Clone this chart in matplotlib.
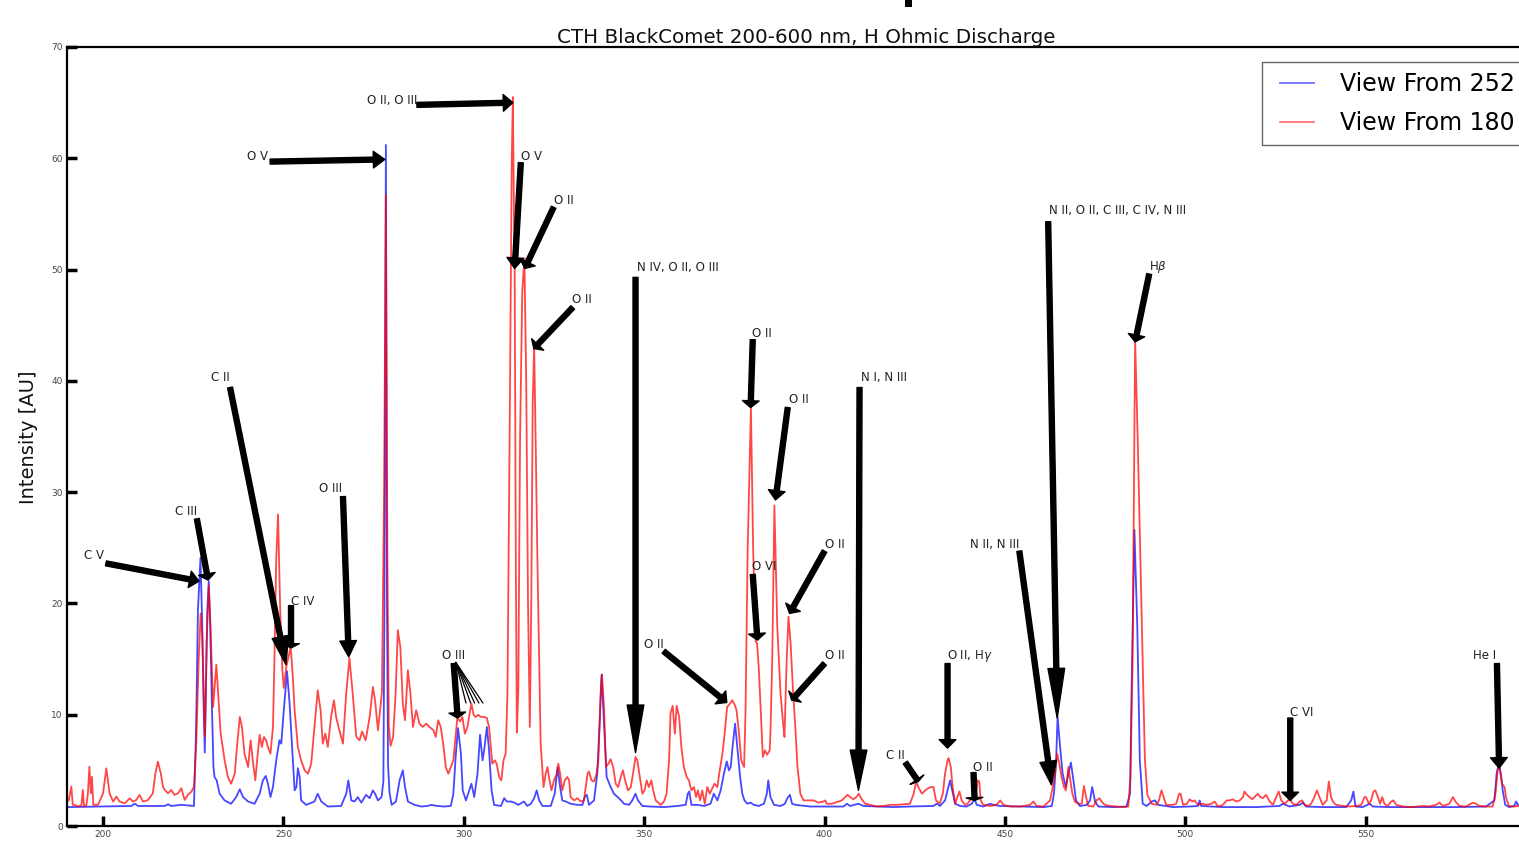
import numpy as np
import matplotlib
matplotlib.use("Agg")
import matplotlib.pyplot as plt
from matplotlib.lines import Line2D
from matplotlib.patches import Rectangle
from matplotlib.legend_handler import HandlerLine2D

# ---------------- data (wavelength [nm], intensity [AU]) ----------------
blue_spectrum = np.array([
    (190.3, 1.7), (199.5, 1.75), (207.8, 1.8), (208.8, 2.0), (209.7, 1.8), (217.1, 1.8), (218.0, 1.95),
    (218.9, 1.8), (221.7, 1.9), (225.2, 1.8), (225.8, 8.9), (226.3, 19.4), (227.0, 24.1), (227.5, 17.9),
    (227.9, 10.4), (228.2, 6.6), (228.5, 11.9), (228.9, 19.4), (229.3, 22.0), (229.7, 17.9), (230.2, 10.4),
    (230.6, 5.3), (230.9, 4.4), (231.5, 4.1), (232.3, 2.9), (233.7, 2.3), (235.5, 2.0), (236.9, 2.6),
    (237.9, 3.3), (238.8, 2.6), (240.2, 2.2), (242.0, 2.0), (243.4, 2.9), (244.3, 4.1), (245.1, 4.5),
    (245.7, 3.8), (246.4, 2.6), (247.1, 3.5), (248.0, 5.9), (248.9, 7.7), (249.4, 7.4), (250.1, 10.4),
    (251.0, 13.9), (251.7, 11.0), (252.4, 7.1), (253.1, 3.2), (253.6, 3.5), (254.0, 5.2), (254.5, 4.4),
    (254.9, 2.3), (256.3, 1.9), (258.6, 2.2), (259.5, 2.9), (260.5, 2.2), (262.3, 1.75), (266.0, 1.8),
    (267.4, 2.9), (268.0, 4.1), (268.8, 2.3), (269.7, 2.2), (270.6, 2.6), (271.6, 2.1), (272.9, 2.8),
    (273.9, 2.5), (274.8, 3.2), (275.4, 2.9), (276.2, 2.3), (277.2, 2.6), (277.7, 4.0), (278.0, 20.0),
    (278.4, 61.2), (278.7, 20.0), (279.0, 5.5), (279.4, 3.0), (280.0, 1.9), (281.2, 2.2), (282.2, 4.1),
    (283.1, 5.0), (283.7, 3.5), (284.5, 2.2), (286.3, 1.9), (288.2, 1.75), (290.0, 1.8), (290.9, 1.9),
    (292.7, 1.8), (294.6, 1.75), (296.4, 1.8), (297.1, 2.9), (297.8, 6.5), (298.4, 8.8), (299.2, 6.5),
    (299.7, 3.2), (300.6, 2.3), (301.5, 3.2), (302.1, 3.8), (302.9, 2.6), (303.8, 4.7), (304.5, 8.2),
    (305.2, 5.9), (305.6, 6.7), (306.4, 8.9), (307.0, 6.8), (307.7, 3.2), (308.4, 1.9), (310.3, 1.8),
    (311.2, 2.5), (311.9, 2.2), (313.0, 2.2), (314.0, 2.1), (315.1, 1.9), (316.7, 2.2), (317.6, 1.8),
    (318.6, 2.0), (319.5, 2.5), (320.2, 3.2), (320.9, 2.3), (321.8, 1.8), (324.1, 1.8), (325.2, 2.9),
    (326.0, 5.3), (326.7, 3.5), (327.3, 2.3), (328.3, 2.2), (329.6, 2.0), (331.5, 1.9), (332.9, 1.9),
    (333.5, 2.6), (334.1, 2.8), (334.7, 1.9), (336.1, 2.3), (337.0, 4.7), (337.6, 8.9), (338.2, 13.6),
    (338.9, 8.9), (339.6, 4.4), (340.7, 3.5), (341.6, 2.9), (343.0, 2.5), (344.4, 2.0), (345.8, 1.9),
    (346.7, 2.3), (347.6, 2.9), (348.3, 2.3), (349.5, 1.8), (351.8, 1.75), (355.5, 1.7), (359.2, 1.8),
    (361.5, 1.9), (362.1, 2.9), (362.5, 3.1), (363.1, 1.9), (364.7, 1.9), (366.6, 1.8), (368.4, 2.0),
    (369.3, 2.9), (370.3, 2.3), (371.2, 3.2), (372.1, 4.7), (372.9, 5.8), (373.5, 5.0), (374.0, 5.3),
    (374.5, 7.1), (375.2, 9.2), (375.8, 7.1), (376.6, 4.4), (377.2, 2.9), (377.8, 2.3), (378.6, 2.0),
    (379.5, 2.1), (380.4, 1.9), (381.8, 1.8), (383.2, 2.0), (384.0, 2.9), (384.4, 4.1), (385.0, 2.6),
    (386.0, 1.9), (387.8, 1.8), (389.0, 2.0), (389.7, 2.5), (390.4, 2.8), (391.0, 2.0), (392.0, 1.9),
    (396.0, 1.75), (399.7, 1.75), (405.3, 1.75), (406.2, 2.0), (407.1, 1.8), (409.4, 2.0), (410.8, 1.8),
    (415.4, 1.75), (419.1, 1.7), (423.7, 1.75), (430.2, 1.8), (431.1, 2.0), (432.0, 1.8), (433.4, 2.3),
    (434.1, 3.2), (434.8, 4.1), (435.4, 3.2), (436.2, 2.0), (437.6, 1.8), (439.4, 1.75), (440.8, 2.0),
    (441.6, 2.4), (442.2, 1.9), (444.0, 1.75), (445.9, 2.0), (446.8, 1.9), (448.7, 1.8), (454.2, 1.75),
    (460.7, 1.7), (463.0, 1.8), (463.6, 2.9), (464.2, 5.9), (464.6, 9.8), (465.3, 7.1), (466.0, 4.7),
    (466.9, 3.5), (467.6, 4.7), (468.3, 5.7), (469.0, 4.1), (469.7, 2.3), (470.8, 1.8), (472.7, 1.9),
    (473.6, 2.3), (474.2, 3.5), (475.0, 2.2), (475.9, 1.75), (480.1, 1.7), (483.7, 1.75), (484.7, 2.9),
    (485.1, 11.9), (485.9, 26.6), (486.7, 17.9), (487.4, 5.9), (488.2, 2.0), (489.3, 1.8), (490.7, 2.2),
    (491.6, 2.3), (492.5, 1.9), (496.6, 1.7), (501.2, 1.75), (503.5, 1.8), (504.0, 2.3), (504.4, 1.8),
    (510.4, 1.7), (519.7, 1.7), (526.1, 1.8), (527.1, 2.0), (528.9, 1.75), (531.7, 1.9), (532.6, 2.1),
    (533.5, 1.75), (538.1, 1.7), (544.6, 1.7), (546.0, 2.3), (546.6, 3.1), (547.2, 1.75), (549.2, 1.7),
    (551.1, 2.0), (552.0, 1.75), (556.6, 1.7), (565.8, 1.7), (575.1, 1.7), (583.4, 1.75), (585.7, 2.3),
    (586.3, 4.7), (586.9, 5.6), (587.5, 4.7), (588.0, 3.2), (588.7, 1.9), (589.8, 1.7), (591.2, 1.8),
    (591.7, 2.2), (592.2, 1.9), (596.0, 1.75), (600.0, 1.75),
])

red_spectrum = np.array([
    (190.5, 2.3), (191.2, 3.54), (191.6, 1.9), (192.1, 1.9), (193.1, 1.75), (194.0, 1.9), (194.4, 3.24),
    (194.7, 1.75), (195.4, 1.9), (195.8, 2.94), (196.2, 5.33), (196.6, 2.94), (196.9, 4.43), (197.3, 1.9),
    (198.6, 1.9), (200.0, 2.94), (200.9, 5.18), (201.8, 2.94), (202.8, 2.19), (203.7, 2.64), (204.6, 2.19),
    (206.0, 2.04), (207.4, 2.49), (208.3, 2.19), (209.2, 2.34), (210.1, 2.79), (211.1, 2.19), (212.5, 2.34),
    (213.8, 2.94), (214.5, 4.73), (215.2, 5.78), (216.0, 4.73), (216.6, 3.54), (217.1, 3.24), (218.0, 2.94),
    (218.9, 3.24), (219.8, 2.79), (220.8, 2.94), (221.7, 3.39), (222.6, 2.34), (223.5, 2.79), (224.5, 3.09),
    (225.2, 3.54), (225.8, 7.13), (226.5, 14.9), (227.05, 19.1), (227.5, 17.0), (228.0, 10.4), (228.25, 8.0),
    (228.7, 16.4), (229.3, 21.6), (229.8, 17.9), (230.5, 10.7), (231.4, 14.5), (232.6, 8.3), (233.7, 5.9),
    (234.6, 4.4), (235.5, 3.8), (236.5, 4.7), (237.2, 7.4), (237.9, 9.8), (238.5, 8.9), (239.2, 6.5),
    (240.2, 5.3), (240.9, 7.7), (241.5, 5.9), (242.2, 4.1), (242.7, 5.9), (243.4, 8.2), (244.0, 7.1),
    (244.6, 8.0), (245.2, 7.7), (245.7, 7.1), (246.4, 6.5), (247.1, 8.9), (247.5, 14.9), (248.0, 24.0),
    (248.5, 28.0), (249.1, 19.4), (249.7, 14.0), (250.1, 12.4), (250.8, 14.3), (252.0, 16.1), (252.6, 13.4),
    (253.1, 10.4), (254.0, 7.1), (254.9, 5.9), (255.9, 5.0), (256.8, 4.7), (257.7, 5.6), (258.6, 8.9),
    (259.5, 12.2), (260.3, 10.4), (260.9, 7.4), (261.6, 8.3), (262.3, 7.1), (263.2, 9.8), (264.0, 11.3),
    (264.6, 9.8), (265.5, 8.6), (266.5, 7.4), (267.4, 11.9), (268.3, 15.1), (269.2, 11.9), (270.2, 8.0),
    (271.1, 7.7), (271.8, 8.5), (272.8, 7.7), (273.9, 9.8), (274.8, 12.5), (275.4, 11.3), (276.2, 8.6),
    (276.6, 9.8), (277.3, 12.0), (277.9, 30.0), (278.4, 56.7), (278.8, 25.0), (279.2, 9.0), (279.7, 7.2),
    (280.4, 8.0), (281.1, 11.9), (281.7, 17.6), (282.4, 16.1), (283.1, 11.0), (283.7, 9.5), (284.5, 14.0),
    (285.2, 11.9), (285.9, 8.9), (286.8, 10.4), (287.7, 9.2), (288.6, 8.9), (289.6, 9.2), (290.5, 8.9),
    (291.6, 8.6), (292.2, 8.0), (292.9, 9.5), (293.6, 8.9), (294.4, 7.1), (295.0, 5.3), (295.7, 4.7),
    (296.4, 5.3), (297.1, 5.9), (297.8, 8.3), (298.2, 9.7), (299.0, 9.4), (299.6, 9.8), (300.3, 8.3),
    (301.0, 8.9), (301.8, 10.4), (302.1, 11.0), (302.7, 10.0), (303.3, 9.8), (304.0, 10.0), (304.7, 9.8),
    (305.6, 9.8), (306.4, 9.7), (307.0, 8.9), (307.5, 7.1), (307.9, 5.6), (308.6, 5.9), (309.1, 5.6),
    (309.8, 4.4), (310.4, 4.1), (311.0, 5.9), (311.6, 6.5), (312.1, 11.9), (312.7, 35.0), (313.3, 60.0),
    (313.6, 65.5), (313.9, 55.0), (314.1, 50.0), (314.4, 25.0), (314.7, 8.4), (315.1, 12.0), (315.6, 35.0),
    (316.2, 48.0), (316.8, 51.0), (317.3, 40.0), (317.8, 20.0), (318.3, 8.9), (318.7, 20.0), (319.1, 38.0),
    (319.5, 43.2), (319.9, 35.0), (320.4, 24.0), (320.9, 14.9), (321.3, 7.4), (322.1, 3.5), (322.7, 4.7),
    (323.2, 5.3), (323.6, 4.4), (324.3, 3.2), (325.0, 4.1), (325.8, 4.7), (326.2, 5.6), (326.7, 4.7),
    (327.3, 3.2), (328.0, 4.1), (328.7, 4.4), (329.2, 4.1), (329.6, 2.6), (330.6, 2.3), (331.5, 2.5),
    (332.4, 2.2), (333.3, 2.3), (333.8, 3.5), (334.3, 4.7), (334.7, 4.9), (335.4, 4.1), (336.1, 4.0),
    (336.8, 4.7), (337.3, 5.9), (338.0, 12.5), (338.3, 13.6), (338.9, 10.4), (339.4, 5.3), (340.1, 5.6),
    (340.7, 6.0), (341.4, 5.3), (342.1, 3.8), (342.8, 3.5), (343.5, 4.4), (344.1, 5.0), (344.8, 4.0),
    (345.5, 3.2), (346.3, 3.5), (346.9, 4.7), (347.6, 6.2), (348.1, 5.9), (348.8, 4.4), (349.5, 2.9),
    (350.1, 3.2), (350.7, 4.1), (351.3, 3.5), (352.0, 4.1), (352.5, 3.2), (353.2, 2.3), (354.6, 1.9),
    (355.5, 2.2), (356.2, 2.9), (356.9, 5.9), (357.3, 10.1), (357.9, 10.8), (358.5, 8.3), (359.0, 10.8),
    (359.7, 9.8), (360.3, 7.1), (361.0, 5.3), (361.8, 4.4), (362.4, 4.1), (363.1, 3.2), (363.8, 3.5),
    (364.4, 2.6), (364.9, 3.2), (365.5, 2.3), (366.1, 3.2), (366.8, 2.0), (367.5, 3.5), (368.2, 2.9),
    (368.9, 3.4), (369.5, 3.8), (370.3, 3.5), (370.8, 4.7), (371.7, 6.5), (372.3, 8.3), (373.0, 10.7),
    (373.8, 11.0), (374.4, 11.3), (375.1, 10.9), (375.6, 10.4), (376.3, 8.3), (376.9, 5.9), (377.7, 5.3),
    (378.1, 10.4), (378.7, 25.0), (379.6, 37.6), (380.2, 25.0), (380.9, 16.6), (381.3, 16.4), (381.8, 14.0),
    (382.5, 8.9), (382.9, 6.2), (383.5, 6.8), (384.1, 6.4), (384.8, 6.8), (385.0, 8.3), (385.5, 14.9),
    (386.1, 28.8), (386.9, 17.9), (387.8, 11.9), (388.6, 8.9), (388.9, 8.0), (389.5, 14.9), (390.0, 18.8),
    (390.6, 16.4), (391.3, 11.9), (391.9, 8.9), (392.5, 5.3), (393.3, 2.9), (394.2, 2.3), (395.6, 2.3),
    (397.0, 2.3), (398.3, 2.1), (399.7, 2.2), (400.2, 2.3), (400.6, 2.0), (402.0, 2.0), (403.0, 2.1),
    (403.9, 2.2), (404.8, 2.3), (405.7, 2.6), (406.4, 2.8), (407.1, 2.6), (408.0, 2.4), (408.8, 2.6),
    (409.5, 2.9), (410.3, 2.4), (411.3, 2.0), (412.6, 1.9), (414.5, 1.75), (416.3, 1.8), (418.2, 1.9),
    (420.0, 1.9), (421.9, 1.95), (423.7, 2.0), (424.7, 2.9), (425.4, 4.0), (426.0, 3.5), (427.0, 2.9),
    (427.9, 3.2), (428.8, 3.4), (429.5, 3.5), (430.2, 3.5), (430.9, 2.3), (431.9, 2.0), (432.8, 2.9),
    (433.4, 4.7), (434.1, 5.9), (434.4, 6.1), (435.0, 5.3), (435.5, 3.5), (436.2, 2.0), (436.8, 2.6),
    (437.4, 3.1), (438.0, 2.3), (439.0, 1.9), (439.6, 2.0), (440.3, 2.3), (441.3, 2.6), (442.0, 3.2),
    (442.5, 4.1), (442.9, 4.0), (443.3, 2.3), (444.0, 1.9), (445.9, 1.8), (447.7, 1.9), (448.7, 2.3),
    (449.6, 1.9), (451.4, 1.75), (454.2, 1.75), (457.0, 1.9), (457.9, 2.2), (458.8, 1.8), (460.7, 1.75),
    (462.5, 2.3), (463.2, 3.4), (463.9, 4.7), (464.5, 6.5), (465.1, 5.6), (465.7, 4.4), (466.4, 3.5),
    (466.9, 3.2), (467.6, 5.3), (468.0, 4.4), (468.7, 2.9), (469.4, 2.2), (470.4, 2.0), (471.3, 2.0),
    (471.9, 3.6), (472.5, 2.6), (473.1, 1.8), (474.5, 1.75), (475.4, 2.3), (476.2, 2.5), (476.8, 2.2),
    (477.7, 1.9), (479.1, 1.8), (481.0, 1.75), (482.8, 1.7), (484.2, 1.75), (484.8, 4.4), (485.4, 14.9),
    (486.1, 43.7), (486.8, 35.0), (487.5, 25.0), (488.2, 15.0), (488.8, 6.0), (489.5, 2.8), (490.7, 2.0),
    (492.0, 1.9), (492.7, 2.3), (493.4, 3.2), (494.0, 2.6), (494.7, 1.9), (496.6, 1.9), (497.5, 2.0),
    (498.3, 2.9), (498.7, 2.9), (499.4, 1.9), (500.5, 2.0), (501.2, 2.4), (502.0, 2.2), (502.6, 2.3),
    (503.5, 1.9), (504.9, 2.0), (505.8, 1.9), (507.2, 2.0), (508.1, 2.2), (509.1, 1.75), (510.4, 1.9),
    (511.5, 2.3), (512.3, 2.3), (513.2, 2.4), (514.1, 2.2), (515.1, 2.3), (516.0, 2.6), (516.4, 3.1),
    (517.1, 2.8), (517.8, 2.6), (518.6, 2.4), (519.2, 2.6), (520.1, 2.9), (520.8, 2.6), (521.5, 2.5),
    (522.4, 2.8), (523.4, 2.2), (524.3, 1.9), (525.2, 2.6), (525.9, 3.1), (526.6, 2.3), (527.5, 2.0),
    (528.3, 2.2), (528.9, 2.5), (529.8, 2.0), (530.8, 1.9), (531.7, 2.2), (532.4, 2.3), (533.1, 1.9),
    (534.0, 1.8), (534.9, 2.0), (535.8, 2.6), (536.5, 3.2), (537.2, 2.6), (538.1, 1.9), (539.2, 2.3),
    (539.8, 4.0), (540.4, 2.6), (540.9, 2.2), (541.8, 1.9), (543.7, 1.8), (545.5, 1.75), (547.4, 1.8),
    (548.8, 1.9), (549.7, 2.6), (550.1, 2.6), (550.9, 2.0), (551.5, 2.3), (552.2, 3.1), (552.7, 3.2),
    (553.4, 2.6), (554.0, 2.0), (554.6, 2.6), (555.2, 2.0), (556.1, 1.8), (557.1, 2.2), (557.7, 2.3),
    (558.5, 1.9), (560.3, 1.75), (563.1, 1.7), (565.8, 1.8), (567.7, 1.75), (569.5, 1.9), (570.5, 2.1),
    (571.4, 1.8), (573.2, 2.0), (574.2, 2.6), (574.9, 2.2), (576.0, 1.8), (577.8, 1.75), (579.7, 2.1),
    (580.6, 2.0), (581.5, 1.8), (583.4, 1.75), (585.2, 1.75), (586.0, 2.9), (586.6, 5.0), (587.1, 5.3),
    (587.8, 3.8), (588.5, 3.5), (588.9, 2.6), (589.7, 1.8), (591.2, 1.75), (592.2, 1.8), (595.0, 1.8),
    (600.0, 1.75),
])

series_labels = ["View From 252", "View From 180"]
title_text = "CTH BlackComet 200-600 nm, H Ohmic Discharge"
x_ticks = [200, 250, 300, 350, 400, 450, 500, 550]
y_ticks = [0, 10, 20, 30, 40, 50, 60, 70]

# annotations: label, label position (nm, AU), arrow start (nm, AU), arrow tip (nm, AU)
annotations = [
    ("C V", (197.5, 24.3), (200.8, 23.6), (226.6, 22.0)),
    ("C III", (223.0, 28.3), (226.0, 27.6), (229.1, 22.1)),
    ("C II", (232.4, 40.3), (235.2, 39.4), (250.7, 14.5)),
    ("C IV", (255.4, 20.2), (252.1, 19.8), (252.1, 16.0)),
    ("O III", (263.2, 30.3), (266.5, 29.6), (268.1, 15.2)),
    ("O V", (242.9, 60.2), (246.3, 59.7), (278.1, 59.9)),
    ("O II, O III", (280.1, 65.2), (287.0, 64.8), (313.6, 65.0)),
    ("O V", (318.8, 60.2), (315.8, 59.6), (314.1, 50.1)),
    ("O II", (327.7, 56.2), (324.9, 55.6), (316.9, 50.1)),
    ("O II", (332.7, 47.3), (330.2, 46.6), (319.4, 42.9)),
    ("O III", (297.2, 15.3), (297.2, 14.6), (298.3, 9.7)),
    ("N IV, O II, O III", (359.3, 50.2), (347.6, 49.3), (347.6, 6.6)),
    ("O II", (352.6, 16.3), (355.4, 15.7), (372.9, 11.1)),
    ("O II", (382.5, 44.3), (380.1, 43.7), (379.5, 37.6)),
    ("O II", (392.8, 38.3), (389.8, 37.6), (386.4, 29.3)),
    ("O VI", (383.4, 23.3), (380.1, 22.6), (381.4, 16.7)),
    ("O II", (402.8, 25.3), (400.0, 24.7), (390.3, 19.1)),
    ("O II", (402.8, 15.3), (400.0, 14.6), (390.9, 11.3)),
    ("N I, N III", (416.6, 40.3), (409.7, 39.4), (409.4, 3.2)),
    ("C II", (419.7, 6.3), (422.4, 5.7), (426.0, 4.0)),
    ("O II, H$\\gamma$", (440.2, 15.3), (434.1, 14.6), (434.1, 7.0)),
    ("O II", (444.0, 5.3), (441.3, 4.8), (441.6, 2.3)),
    ("N II, N III", (447.1, 25.3), (454.0, 24.7), (462.9, 3.7)),
    ("N II, O II, C III, C IV, N III", (481.2, 55.3), (462.0, 54.3), (464.5, 9.7)),
    ("H$\\beta$", (492.5, 50.2), (490.0, 49.6), (486.1, 43.5)),
    ("C VI", (532.4, 10.2), (529.1, 9.7), (529.1, 2.3)),
    ("He I", (583.1, 15.3), (586.4, 14.6), (587.0, 5.2)),
]
# thin O III pointer lines
o3_start = (297.8, 14.7)
o3_targets_nm = [300.6, 301.9, 303.0, 304.2, 305.3]
o3_target_int = 11.05

# ---------------- figure ----------------
W, H, DPI = 1519, 850, 100
fig = plt.figure(figsize=(W / DPI, H / DPI), dpi=DPI)
ax = fig.add_axes([67 / W, 24 / H, 1479 / W, 779 / H])

ax.plot(blue_spectrum[:, 0], blue_spectrum[:, 1], color="#0000ff", alpha=0.72, lw=1.3)
ax.plot(red_spectrum[:, 0], red_spectrum[:, 1], color="#ff0000", alpha=0.72, lw=1.3)

ax.set_xlim(190, 600)
ax.set_ylim(0, 70)
ax.set_xticks(x_ticks)
ax.set_yticks(y_ticks)
ax.tick_params(direction="in", length=7.5, width=2.5, labelsize=6.5, labelcolor="#444444",
               pad=3, color="black")
for sp in ax.spines.values():
    sp.set_linewidth(1.6)
    sp.set_color("black")

ax.set_title(title_text, fontsize=14.3, pad=3, color="#111111")
fig.text(28 / W, 1 - 437 / H, "Intensity [AU]", rotation=90, ha="center", va="center",
         fontsize=14, color="#111111")

# small dark mark at the top edge of the reference image
fig.patches.append(Rectangle((905 / W, 1 - 7 / H), 7 / W, 7 / H, transform=fig.transFigure,
                             facecolor="black", edgecolor="none"))

fig.canvas.draw()
def to_px(pt):
    return ax.transData.transform(pt)

for label, tpos, start, tip in annotations:
    ax.text(tpos[0], tpos[1], label, ha="center", va="center", fontsize=8.5, color="#222222")
    p0, p1 = to_px(start), to_px(tip)
    length_pt = np.hypot(*(p1 - p0)) * 72.0 / DPI
    ax.annotate("", xy=tip, xytext=start,
                arrowprops=dict(facecolor="black", edgecolor="black", width=3.6,
                                headwidth=12, headlength=max(0.1 * length_pt, 1.5), shrink=0.0))

for tx in o3_targets_nm:
    ax.annotate("", xy=(tx, o3_target_int), xytext=o3_start,
                arrowprops=dict(arrowstyle="-", lw=0.9, color="black", shrinkA=0, shrinkB=0))

handles = [Line2D([], [], color="#0000ff", alpha=0.55, lw=1.3),
           Line2D([], [], color="#ff0000", alpha=0.55, lw=1.3)]
leg = ax.legend(handles, series_labels, loc="upper left",
                bbox_to_anchor=(1262 / W, 1 - 62 / H), bbox_transform=fig.transFigure,
                fontsize=17, frameon=True, fancybox=False, borderaxespad=0,
                handlelength=1.78, handletextpad=1.1, labelspacing=0.66, borderpad=0.42,
                handler_map={Line2D: HandlerLine2D(xpad=0.36)})
leg.get_frame().set_edgecolor("#444444")
leg.get_frame().set_linewidth(1.0)

fig.savefig("out.png", dpi=DPI)
